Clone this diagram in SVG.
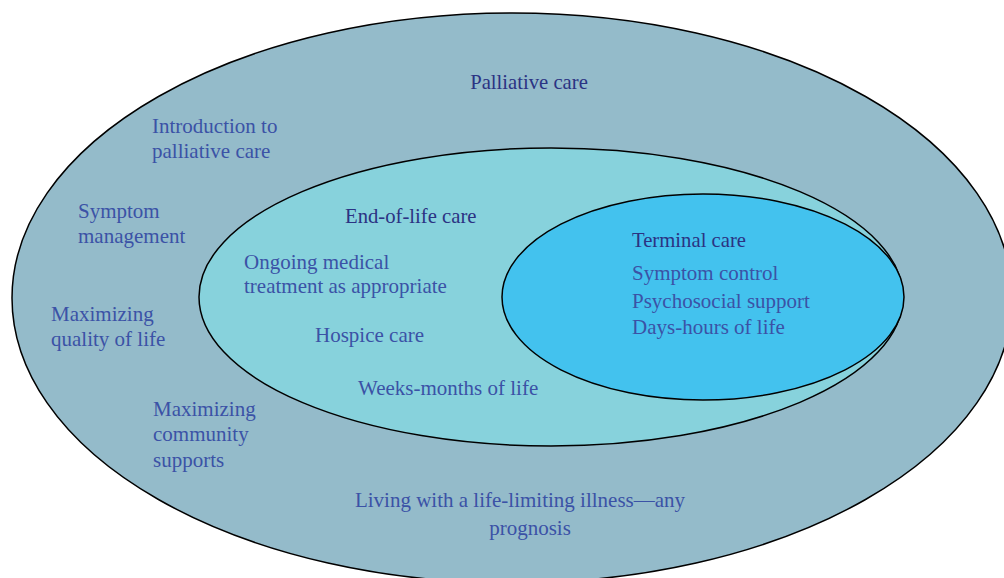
<svg xmlns="http://www.w3.org/2000/svg" width="1004" height="578" viewBox="0 0 1004 578">
<style>
.ring{stroke:#000;stroke-width:1.5}
text{font-family:"Liberation Serif","Times New Roman",serif;font-size:21px;fill:#3b52a6}
.title{fill:#2b3383;font-size:20.7px}
.mid{text-anchor:middle}
</style>
<rect width="1004" height="578" fill="#fff"/>
<g id="palliative-care">
<ellipse class="ring" cx="512" cy="298" rx="500" ry="285" fill="#94bbca"/>
<text class="title mid" x="529" y="89">Palliative care</text>
<text x="152" y="133">Introduction to</text>
<text x="152" y="158">palliative care</text>
<text x="78" y="218">Symptom</text>
<text x="78" y="243">management</text>
<text x="51" y="321">Maximizing</text>
<text x="51" y="346">quality of life</text>
<text x="153" y="416">Maximizing</text>
<text x="153" y="441">community</text>
<text x="153" y="467">supports</text>
<text class="mid" x="520" y="507">Living with a life-limiting illness—any</text>
<text class="mid" x="530" y="535">prognosis</text>
</g>
<g id="end-of-life-care">
<ellipse class="ring" cx="551" cy="297" rx="352" ry="149" fill="#87d2dc"/>
<text class="title" x="345" y="223">End-of-life care</text>
<text x="244" y="269">Ongoing medical</text>
<text x="244" y="293">treatment as appropriate</text>
<text x="315" y="342">Hospice care</text>
<text x="358" y="395">Weeks-months of life</text>
</g>
<g id="terminal-care">
<ellipse class="ring" cx="703" cy="297" rx="201" ry="103" fill="#43c2ee"/>
<text class="title" x="632" y="247">Terminal care</text>
<text x="632" y="280">Symptom control</text>
<text x="632" y="308">Psychosocial support</text>
<text x="632" y="334">Days-hours of life</text>
</g>
</svg>
